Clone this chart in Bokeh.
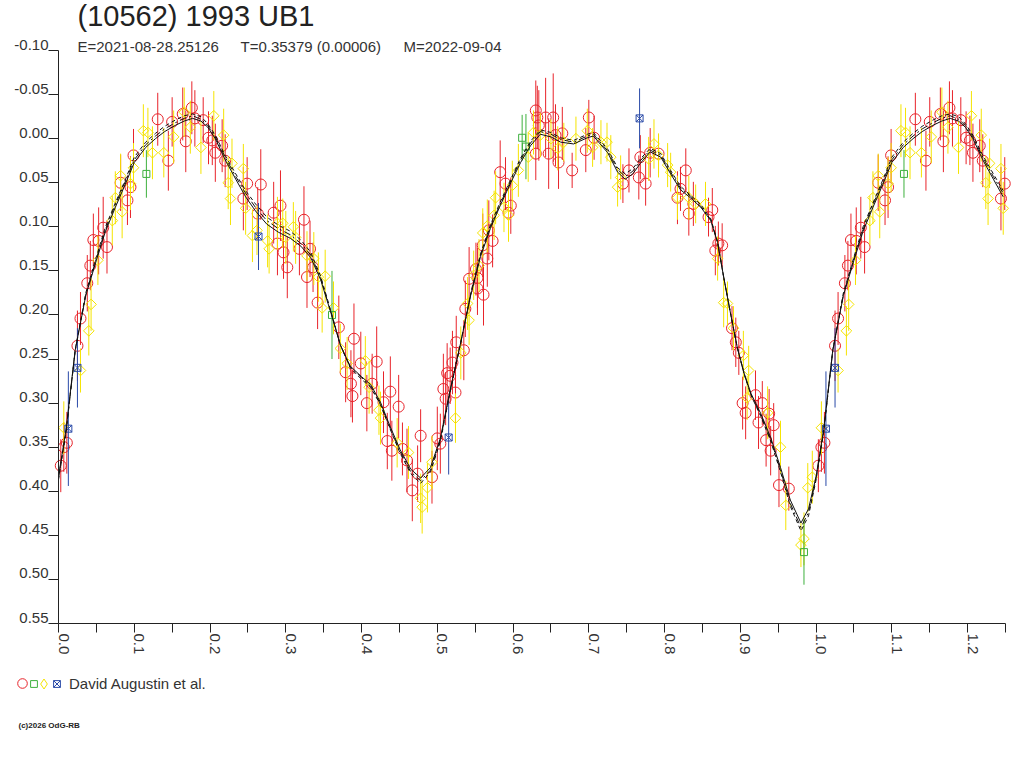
import math
from bokeh.plotting import figure
from bokeh.models import (Range1d, FixedTicker, LinearAxis, CustomJSTickFormatter,
                          Label, Legend, LegendItem, ColumnDataSource)
from bokeh.embed import file_html
from bokeh.resources import INLINE

FONT = "Liberation Sans"

# ---------------- data (phase, reduced magnitude, error) ----------------
red_phase = [0.003, 0.007, 0.011, 0.025, 0.029, 0.038, 0.042, 0.046, 0.053, 0.059,
             0.064, 0.082, 0.091, 0.095, 0.099, 0.131, 0.145, 0.150, 0.164, 0.168,
             0.176, 0.180, 0.191, 0.198, 0.203, 0.207, 0.216, 0.220, 0.244, 0.249,
             0.267, 0.263, 0.284, 0.293, 0.289, 0.297, 0.302, 0.324, 0.318, 0.332,
             0.336, 0.328, 0.342, 0.370, 0.390, 0.379, 0.386, 0.388, 0.399, 0.420,
             0.407, 0.414, 0.438, 0.429, 0.449, 0.434, 0.440, 0.454, 0.478, 0.460,
             0.467, 0.474, 0.493, 0.500, 0.508, 0.513, 0.511, 0.504, 0.524, 0.517,
             0.520, 0.525, 0.535, 0.537, 0.542, 0.551, 0.553, 0.561, 0.553, 0.566,
             0.560, 0.573, 0.568, 0.583, 0.590, 0.597, 0.594, 0.630, 0.632, 0.630,
             0.634, 0.643, 0.647, 0.653, 0.656, 0.660, 0.665, 0.678, 0.700, 0.696,
             0.707, 0.745, 0.753, 0.768, 0.766, 0.775, 0.781, 0.792, 0.828, 0.821,
             0.817, 0.832, 0.838, 0.863, 0.858, 0.871, 0.867, 0.876, 0.889, 0.894,
             0.898, 0.903, 0.907, 0.920, 0.924, 0.929, 0.934, 0.938, 0.944, 0.940,
             0.951, 0.964]
red_mag = [0.371, 0.350, 0.345, 0.235, 0.204, 0.164, 0.144, 0.115, 0.116, 0.101,
           0.123, 0.050, 0.070, 0.055, 0.019, -0.022, 0.025, -0.019, -0.028, 0.003,
           -0.035, -0.023, -0.021, -0.001, 0.002, 0.016, 0.008, 0.025, 0.068, 0.051,
           0.052, 0.085, 0.084, 0.076, 0.119, 0.129, 0.146, 0.092, 0.125, 0.125,
           0.146, 0.157, 0.186, 0.214, 0.227, 0.265, 0.278, 0.292, 0.255, 0.253,
           0.300, 0.278, 0.287, 0.299, 0.304, 0.343, 0.354, 0.352, 0.337, 0.365,
           0.399, 0.380, 0.384, 0.340, 0.284, 0.266, 0.295, 0.346, 0.288, 0.269,
           0.254, 0.231, 0.240, 0.193, 0.159, 0.148, 0.158, 0.177, 0.170, 0.136,
           0.121, 0.116, 0.104, 0.038, 0.051, 0.076, 0.084, -0.032, -0.024, 0.017,
           -0.015, -0.024, 0.017, -0.024, -0.004, 0.027, -0.006, 0.036, -0.024, 0.013,
           -0.001, 0.051, 0.036, 0.021, 0.044, 0.051, 0.016, 0.017, 0.036, 0.057,
           0.067, 0.085, 0.074, 0.081, 0.089, 0.119, 0.127, 0.121, 0.215, 0.231,
           0.243, 0.300, 0.311, 0.291, 0.322, 0.300, 0.342, 0.312, 0.325, 0.354,
           0.393, 0.397]
red_err = [0.030, 0.028, 0.035, 0.040, 0.030, 0.032, 0.028, 0.030, 0.038, 0.035,
           0.030, 0.032, 0.028, 0.035, 0.030, 0.030, 0.034, 0.028, 0.030, 0.035,
           0.030, 0.032, 0.026, 0.030, 0.028, 0.033, 0.030, 0.030, 0.036, 0.030,
           0.040, 0.030, 0.035, 0.040, 0.036, 0.030, 0.035, 0.038, 0.030, 0.032,
           0.028, 0.035, 0.030, 0.036, 0.040, 0.034, 0.038, 0.030, 0.036, 0.040,
           0.032, 0.034, 0.040, 0.035, 0.036, 0.032, 0.034, 0.030, 0.030, 0.036,
           0.035, 0.032, 0.030, 0.036, 0.040, 0.034, 0.030, 0.034, 0.035, 0.032,
           0.036, 0.030, 0.034, 0.032, 0.036, 0.030, 0.034, 0.035, 0.030, 0.032,
           0.036, 0.030, 0.034, 0.036, 0.030, 0.032, 0.030, 0.034, 0.036, 0.030,
           0.040, 0.045, 0.040, 0.050, 0.035, 0.030, 0.030, 0.020, 0.020, 0.025,
           0.025, 0.022, 0.025, 0.025, 0.025, 0.025, 0.028, 0.022, 0.025, 0.025,
           0.030, 0.025, 0.025, 0.025, 0.022, 0.025, 0.028, 0.025, 0.025, 0.028,
           0.025, 0.030, 0.030, 0.028, 0.030, 0.025, 0.030, 0.028, 0.025, 0.028,
           0.025, 0.025]

yel_phase = [0.007, 0.029, 0.040, 0.043, 0.052, 0.075, 0.071, 0.082, 0.095, 0.099,
             0.084, 0.112, 0.118, 0.124, 0.139, 0.152, 0.166, 0.174, 0.188, 0.205,
             0.218, 0.229, 0.224, 0.227, 0.244, 0.247, 0.256, 0.262, 0.276, 0.278,
             0.289, 0.296, 0.300, 0.310, 0.313, 0.328, 0.337, 0.343, 0.352, 0.348,
             0.363, 0.372, 0.381, 0.405, 0.410, 0.423, 0.425, 0.447, 0.462, 0.478,
             0.480, 0.487, 0.493, 0.524, 0.531, 0.542, 0.540, 0.548, 0.555, 0.560,
             0.566, 0.575, 0.577, 0.588, 0.594, 0.599, 0.607, 0.620, 0.627, 0.636,
             0.650, 0.659, 0.667, 0.683, 0.698, 0.705, 0.716, 0.724, 0.729, 0.742,
             0.738, 0.779, 0.786, 0.792, 0.804, 0.808, 0.817, 0.832, 0.841, 0.854,
             0.870, 0.878, 0.883, 0.891, 0.904, 0.911, 0.909, 0.936, 0.953, 0.960,
             0.980, 0.984, 0.989, 0.995]
yel_mag = [0.328, 0.263, 0.218, 0.188, 0.138, 0.067, 0.093, 0.042, 0.051, 0.033,
           0.083, -0.009, -0.007, 0.016, 0.016, -0.002, -0.030, -0.013, 0.010, -0.026,
           -0.004, 0.028, 0.050, 0.068, 0.034, 0.079, 0.110, 0.104, 0.116, 0.125,
           0.096, 0.096, 0.112, 0.100, 0.112, 0.133, 0.136, 0.157, 0.156, 0.192,
           0.192, 0.238, 0.255, 0.252, 0.282, 0.308, 0.317, 0.345, 0.356, 0.408,
           0.418, 0.396, 0.367, 0.317, 0.243, 0.206, 0.187, 0.155, 0.144, 0.107,
           0.099, 0.087, 0.067, 0.078, 0.087, 0.053, 0.036, 0.021, -0.007, -0.004,
           0.000, 0.011, 0.004, 0.000, -0.009, 0.010, 0.004, 0.004, 0.021, 0.044,
           0.055, 0.023, 0.006, 0.019, 0.030, 0.038, 0.067, 0.067, 0.074, 0.074,
           0.136, 0.186, 0.187, 0.215, 0.246, 0.263, 0.294, 0.311, 0.350, 0.416,
           0.461, 0.454, 0.396, 0.384]
yel_err = [0.030, 0.025, 0.028, 0.030, 0.028, 0.030, 0.028, 0.025, 0.030, 0.028,
           0.030, 0.030, 0.028, 0.030, 0.028, 0.030, 0.028, 0.030, 0.030, 0.028,
           0.030, 0.028, 0.030, 0.030, 0.028, 0.030, 0.030, 0.028, 0.030, 0.028,
           0.030, 0.028, 0.030, 0.028, 0.030, 0.028, 0.030, 0.028, 0.030, 0.028,
           0.030, 0.028, 0.030, 0.028, 0.030, 0.028, 0.030, 0.028, 0.030, 0.028,
           0.030, 0.028, 0.030, 0.028, 0.030, 0.028, 0.030, 0.028, 0.030, 0.028,
           0.030, 0.028, 0.030, 0.028, 0.030, 0.028, 0.030, 0.028, 0.025, 0.025,
           0.022, 0.025, 0.022, 0.025, 0.025, 0.022, 0.025, 0.022, 0.025, 0.025,
           0.022, 0.025, 0.028, 0.025, 0.025, 0.022, 0.025, 0.025, 0.022, 0.025,
           0.025, 0.028, 0.025, 0.025, 0.028, 0.028, 0.025, 0.030, 0.030, 0.028,
           0.025, 0.030, 0.028, 0.030]

grn_phase = [0.116, 0.361, 0.612, 0.617, 0.984]
grn_mag = [0.040, 0.200, -0.001, 0.009, 0.469]
grn_err = [0.027, 0.050, 0.026, 0.037, 0.037]

blu_phase = [0.013, 0.025, 0.264, 0.515, 0.767]
blu_mag = [0.329, 0.260, 0.111, 0.339, -0.023]
blu_err = [0.065, 0.045, 0.038, 0.042, 0.034]

# model lightcurves (three fits)
model_phase = [0.000, 0.010, 0.022, 0.036, 0.050, 0.062, 0.075, 0.088, 0.100, 0.115,
               0.128, 0.140, 0.154, 0.166, 0.177, 0.188, 0.197, 0.207, 0.220, 0.234,
               0.247, 0.260, 0.275, 0.290, 0.306, 0.320, 0.333, 0.346, 0.359, 0.372,
               0.385, 0.400, 0.412, 0.425, 0.438, 0.451, 0.465, 0.478, 0.491, 0.504,
               0.517, 0.531, 0.544, 0.557, 0.570, 0.583, 0.597, 0.610, 0.623, 0.636,
               0.650, 0.663, 0.680, 0.698, 0.706, 0.725, 0.738, 0.748, 0.758, 0.768,
               0.781, 0.795, 0.808, 0.821, 0.834, 0.848, 0.861, 0.870, 0.878, 0.887,
               0.896, 0.905, 0.914, 0.927, 0.940, 0.953, 0.966, 0.980, 0.990]
model_solid = [0.383, 0.330, 0.240, 0.178, 0.138, 0.105, 0.078, 0.052, 0.027, 0.010,
               0.000, -0.008, -0.015, -0.020, -0.023, -0.020, -0.013, 0.000, 0.024, 0.046,
               0.066, 0.082, 0.097, 0.106, 0.113, 0.122, 0.135, 0.160, 0.196, 0.234,
               0.258, 0.270, 0.279, 0.299, 0.327, 0.353, 0.375, 0.385, 0.373, 0.340,
               0.285, 0.231, 0.178, 0.134, 0.102, 0.076, 0.050, 0.027, 0.008, -0.005,
               -0.002, 0.004, 0.006, -0.001, -0.003, 0.016, 0.038, 0.046, 0.040, 0.028,
               0.015, 0.021, 0.040, 0.058, 0.067, 0.078, 0.093, 0.118, 0.157, 0.198,
               0.237, 0.266, 0.289, 0.312, 0.339, 0.373, 0.410, 0.436, 0.420]
model_dash_off = [0.004, 0.003, 0.000, -0.003, -0.004, -0.005, -0.005, -0.005, -0.006, -0.006,
                  -0.006, -0.006, -0.006, -0.006, -0.005, -0.005, -0.004, -0.004, -0.005, -0.006,
                  -0.007, -0.008, -0.008, -0.008, -0.008, -0.007, -0.006, -0.004, -0.002, 0.000,
                  0.002, 0.003, 0.003, 0.003, 0.003, 0.004, 0.005, 0.006, 0.005, 0.004,
                  0.002, 0.000, -0.002, -0.003, -0.004, -0.004, -0.004, -0.005, -0.005, -0.005,
                  -0.005, -0.005, -0.004, -0.004, -0.004, -0.004, -0.005, -0.006, -0.006, -0.005,
                  -0.004, -0.004, -0.004, -0.004, -0.003, -0.003, -0.002, -0.001, 0.000, 0.000,
                  0.000, 0.001, 0.002, 0.003, 0.004, 0.005, 0.007, 0.009, 0.008]
model_dot_off = [0.002, 0.002, 0.001, -0.001, -0.002, -0.002, -0.003, -0.003, -0.003, -0.003,
                 -0.003, -0.003, -0.003, -0.003, -0.003, -0.002, -0.002, -0.002, -0.003, -0.003,
                 -0.004, -0.004, -0.004, -0.004, -0.004, -0.003, -0.003, -0.002, -0.001, 0.000,
                 0.001, 0.001, 0.002, 0.002, 0.002, 0.002, 0.003, 0.003, 0.003, 0.002,
                 0.001, 0.000, -0.001, -0.002, -0.002, -0.002, -0.002, -0.003, -0.003, -0.003,
                 -0.003, -0.003, -0.002, -0.002, -0.002, -0.002, -0.003, -0.003, -0.003, -0.003,
                 -0.002, -0.002, -0.002, -0.002, -0.002, -0.001, -0.001, 0.000, 0.000, 0.000,
                 0.000, 0.001, 0.001, 0.002, 0.002, 0.003, 0.004, 0.005, 0.004]

x_ticks = [0.0, 0.1, 0.2, 0.3, 0.4, 0.5, 0.6, 0.7, 0.8, 0.9, 1.0, 1.1, 1.2]
x_minor = [0.05, 0.15, 0.25, 0.35, 0.45, 0.55, 0.65, 0.75, 0.85, 0.95, 1.05, 1.15, 1.25]
y_ticks = [-0.10, -0.05, 0.00, 0.05, 0.10, 0.15, 0.20, 0.25, 0.30, 0.35, 0.40, 0.45, 0.50, 0.55]

TITLE = "(10562) 1993 UB1"
SUB_E = "E=2021-08-28.25126"
SUB_T = "T=0.35379 (0.00006)"
SUB_M = "M=2022-09-04"
OBSERVER = "David Augustin et al."
COPYRIGHT = "(c)2026 OdG-RB"

RED, YEL, GRN, BLU = "#e8232a", "#f5e400", "#3db03d", "#2a4aa8"
AX = "#222222"
TXT = "#333333"

W, H = 1016, 760          # canvas; the frame fills all of it
X_AXIS_AT = 0.55          # axes drawn at fixed data positions
Y_AXIS_AT = 0.0


def fold(phase, *cols):
    """Repeat points with phase <= 0.25 one cycle later (as in the folded plot)."""
    ph = list(phase) + [p + 1.0 for p in phase if p <= 0.25]
    out = [list(c) + [v for p, v in zip(phase, c) if p <= 0.25] for c in cols]
    return ph, out


def source(phase, mag, err):
    ph, (m, e) = fold(phase, mag, err)
    return ColumnDataSource(dict(x=ph, y=m,
                                 lo=[a - b for a, b in zip(m, e)],
                                 hi=[a + b for a, b in zip(m, e)]))


p = figure(width=W, height=H,
           x_range=Range1d(-0.07656, 1.26452), y_range=Range1d(0.70541, -0.15672),
           output_backend="svg", toolbar_location=None, title_location=None,
           min_border_left=0, min_border_right=0, min_border_top=0, min_border_bottom=0)
p.outline_line_color = None
p.grid.visible = False
p.background_fill_color = "white"
p.border_fill_color = "white"

# main axes: lines and ticks only
xa = p.xaxis[0]
xa.fixed_location = X_AXIS_AT
xa.bounds = (0.0, 1.25)
xa.ticker = FixedTicker(ticks=x_ticks, minor_ticks=x_minor)
xa.major_tick_out = 9
xa.major_tick_in = 0
xa.minor_tick_out = 9
xa.minor_tick_in = 0
xa.major_label_text_color = None
xa.axis_line_color = AX
xa.major_tick_line_color = AX
xa.minor_tick_line_color = AX

ya = p.yaxis[0]
ya.fixed_location = Y_AXIS_AT
ya.bounds = (-0.10, 0.55)
ya.ticker = FixedTicker(ticks=y_ticks, minor_ticks=[])
ya.major_tick_out = 10
ya.major_tick_in = 0
ya.minor_tick_line_color = None
ya.major_label_text_color = None
ya.axis_line_color = AX
ya.major_tick_line_color = AX

# label axes (labels sit slightly beside their ticks as in the original)
YSH = 0.0068
XSH = 0.0066
ylab = LinearAxis(fixed_location=Y_AXIS_AT,
                  ticker=FixedTicker(ticks=[t - YSH for t in y_ticks], minor_ticks=[]),
                  formatter=CustomJSTickFormatter(
                      code=f"return (Math.round((tick + {YSH})*100)/100).toFixed(2)"))
ylab.axis_line_color = None
ylab.major_tick_line_color = None
ylab.minor_tick_line_color = None
ylab.major_tick_out = 0
ylab.major_tick_in = 0
ylab.major_label_standoff = 10
ylab.major_label_text_font = FONT
ylab.major_label_text_font_size = "15px"
ylab.major_label_text_color = TXT
p.add_layout(ylab, "left")

xlab = LinearAxis(fixed_location=X_AXIS_AT,
                  ticker=FixedTicker(ticks=[t + XSH for t in x_ticks], minor_ticks=[]),
                  formatter=CustomJSTickFormatter(
                      code=f"return (Math.round((tick - {XSH})*10)/10).toFixed(1)"))
xlab.axis_line_color = None
xlab.major_tick_line_color = None
xlab.minor_tick_line_color = None
xlab.major_tick_out = 0
xlab.major_tick_in = 0
xlab.major_label_standoff = 10
xlab.major_label_orientation = -math.pi / 2
xlab.major_label_text_font = FONT
xlab.major_label_text_font_size = "15px"
xlab.major_label_text_color = TXT
p.add_layout(xlab, "below")

# data
s_red = source(red_phase, red_mag, red_err)
s_yel = source(yel_phase, yel_mag, yel_err)
s_grn = source(grn_phase, grn_mag, grn_err)
s_blu = source(blu_phase, blu_mag, blu_err)

p.segment(x0="x", y0="lo", x1="x", y1="hi", source=s_red, line_color=RED, line_width=1)
r_red = p.scatter("x", "y", source=s_red, marker="circle", size=11,
                  line_color=RED, fill_color=None, line_width=1)
p.segment(x0="x", y0="lo", x1="x", y1="hi", source=s_yel, line_color=YEL, line_width=1)
r_yel = p.scatter("x", "y", source=s_yel, marker="square", angle=math.pi / 4, size=7.5,
                  line_color=YEL, fill_color=None, line_width=1)
p.segment(x0="x", y0="lo", x1="x", y1="hi", source=s_grn, line_color=GRN, line_width=1)
r_grn = p.scatter("x", "y", source=s_grn, marker="square", size=7,
                  line_color=GRN, fill_color=None, line_width=1)
p.segment(x0="x", y0="lo", x1="x", y1="hi", source=s_blu, line_color=BLU, line_width=1)
r_blu = p.scatter("x", "y", source=s_blu, marker="square_x", size=7,
                  line_color=BLU, fill_color=None, line_width=1)
# hidden copy of the yellow series, used only for its (unrotated) legend swatch
r_yel_key = p.scatter("x", "y", source=s_yel, marker="diamond", size=10,
                      line_color=YEL, fill_color=None, line_width=1, visible=False)

# model curves
mp, (ms, md, mo) = fold(model_phase, model_solid,
                        [a + b for a, b in zip(model_solid, model_dash_off)],
                        [a + b for a, b in zip(model_solid, model_dot_off)])
p.line(mp, ms, line_color="#111111", line_width=1)
p.line(mp, md, line_color="#111111", line_width=1, line_dash="4 3")
p.line(mp, mo, line_color="#111111", line_width=1, line_dash="7 3 2 3")


# legend (observer): one small legend per symbol so they sit close together
def key(renderer, box, loc, label=" ", standoff=0):
    return Legend(items=[LegendItem(label=label, renderers=[renderer])],
                  location=loc, orientation="horizontal",
                  glyph_width=box, glyph_height=box, spacing=0, label_standoff=standoff,
                  label_width=0, label_height=0, padding=0, margin=0,
                  border_line_color=None, background_fill_alpha=0,
                  inactive_fill_alpha=0,
                  label_text_font=FONT, label_text_font_size="15px",
                  label_text_color=TXT)


p.add_layout(key(r_red, 24, (10, 65)))
p.add_layout(key(r_grn, 17, (25, 68.5)))
p.add_layout(key(r_yel_key, 25, (31, 64.5)))
p.add_layout(key(r_blu, 17, (48, 68.5), label=OBSERVER, standoff=4))

# titles (screen units from the bottom-left of the canvas)
p.add_layout(Label(x=77, y=H - 31, x_units="screen", y_units="screen", text=TITLE,
                   text_font=FONT, text_font_size="29px", text_color="#222222"))
for xo, t in [(77, SUB_E), (240, SUB_T), (403, SUB_M)]:
    p.add_layout(Label(x=xo, y=H - 54, x_units="screen", y_units="screen", text=t,
                       text_font=FONT, text_font_size="15px", text_color=TXT))
p.add_layout(Label(x=18, y=H - 729, x_units="screen", y_units="screen", text=COPYRIGHT,
                   text_font=FONT, text_font_size="8px", text_font_style="bold",
                   text_color="#222222"))

open("out.html", "w").write(file_html(p, INLINE))
